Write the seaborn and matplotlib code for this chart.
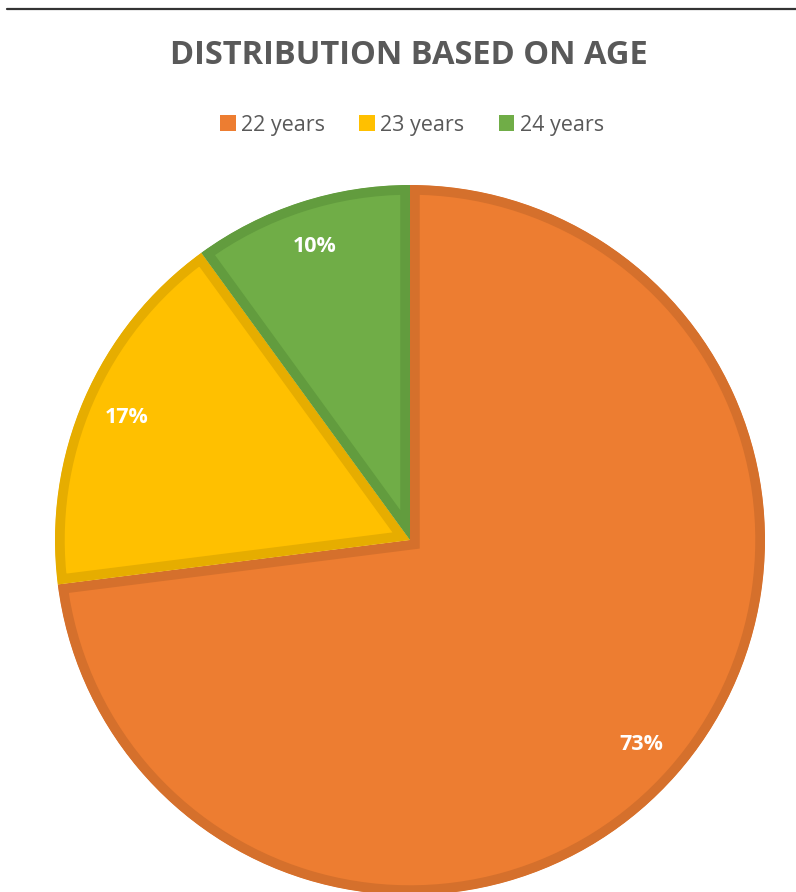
import matplotlib
matplotlib.use("Agg")
import matplotlib.pyplot as plt
import seaborn as sns
from matplotlib.patches import Patch
from matplotlib.lines import Line2D

categories = ["22 years", "23 years", "24 years"]
values = [73, 17, 10]
fill_colors = ["#ED7D31", "#FFC000", "#70AD47"]
edge_colors = ["#D5702C", "#E6AD00", "#629C3E"]
title = "DISTRIBUTION BASED ON AGE"

sns.set_theme(style="white")
plt.rcParams["font.family"] = ["Open Sans", "DejaVu Sans"]

W, H = 796, 892
fig = plt.figure(figsize=(W / 100, H / 100), dpi=100)

# top border line
fig.add_artist(Line2D([7 / W, 1.0], [1 - 9 / H, 1 - 9 / H], color="#333333", lw=1.6,
                      transform=fig.transFigure))

cx, cy, r = 410, 540, 355
ax = fig.add_axes([(cx - r) / W, (H - cy - r) / H, 2 * r / W, 2 * r / H])
wedges, texts, autotexts = ax.pie(
    values, colors=fill_colors, startangle=90, counterclock=False,
    autopct=lambda p: f"{p:.0f}%", pctdistance=0.87, radius=1.0,
    wedgeprops=dict(linewidth=14, joinstyle="miter"),
    textprops=dict(color="white", fontsize=15.5, fontweight="bold"),
)
for w, ec in zip(wedges, edge_colors):
    w.set_edgecolor(ec)
    w.set_clip_on(True)
    w.set_clip_path(w)
ax.set_xlim(-1, 1)
ax.set_ylim(-1, 1)
ax.set_aspect("equal")
ax.axis("off")

fig.text(409 / W, 1 - 55 / H, title, ha="center", va="center", fontsize=23.5,
         fontweight="bold", color="#595959")

handles = [Patch(facecolor=fc, edgecolor="none") for fc, ec in zip(fill_colors, edge_colors)]
fig.legend(handles, categories, loc="center", bbox_to_anchor=(412 / W, 1 - 125 / H), ncol=3,
           frameon=False, fontsize=15.5, handlelength=0.72, handleheight=0.72,
           handletextpad=0.25, columnspacing=1.6, labelcolor="#595959")

fig.savefig("out.png", dpi=100)
